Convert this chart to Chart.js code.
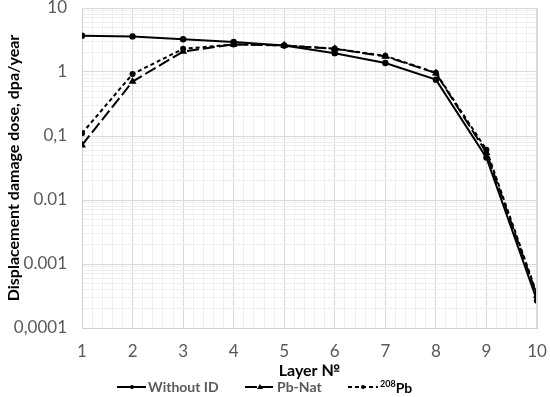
<!DOCTYPE html>
<html>
<head>
<meta charset="utf-8">
<script src="https://cdn.jsdelivr.net/npm/chart.js@4/dist/chart.umd.min.js"></script>
<style>
  html, body { margin:0; padding:0; background:#fff; }
  #wrap { position:relative; width:550px; height:397px; }
  canvas { display:block; }
  #legend { position:absolute; left:0; top:378px; width:550px; height:16px;
            font-family: Lato, "Open Sans", sans-serif; font-size:14px; font-weight:700; color:#595959; }
  .item { position:absolute; top:0; display:flex; align-items:center; gap:2px; white-space:nowrap; }
  sup { font-size:9px; color:#000; }
  .pb { color:#000; }
</style>
</head>
<body>
<div id="wrap">
  <canvas id="c" width="550" height="397"></canvas>
  <div id="legend">
    <div class="item" style="left:117px"><svg width="29" height="12"><line x1="0" y1="6" x2="29" y2="6" stroke="#000" stroke-width="2"/><circle cx="15" cy="6" r="2" fill="#000"/></svg><span>Without ID</span></div>
    <div class="item" style="left:245px"><svg width="30" height="12"><line x1="0" y1="6" x2="30" y2="6" stroke="#000" stroke-width="2" stroke-dasharray="12,4"/><polygon points="15,3 18,8 12,8" fill="#000"/></svg><span>Pb-Nat</span></div>
    <div class="item" style="left:348px"><svg width="30" height="12"><line x1="0" y1="6" x2="30" y2="6" stroke="#000" stroke-width="2" stroke-dasharray="4,3"/><circle cx="15" cy="6" r="2" fill="#000"/></svg><span><sup>208</sup><span class="pb">Pb</span></span></div>
  </div>
</div>
<script>
const layers = [1, 2, 3, 4, 5, 6, 7, 8, 9, 10];
const withoutID = [3.7, 3.6, 3.25, 2.95, 2.6, 1.97, 1.38, 0.76, 0.046, 0.00027];
const pbNat     = [0.072, 0.71, 2.09, 2.7, 2.6, 2.3, 1.75, 0.96, 0.055, 0.00032];
const pb208     = [0.11, 0.93, 2.3, 2.7, 2.6, 2.32, 1.79, 0.97, 0.061, 0.00034];
const yTickValues = [0.0001, 0.001, 0.01, 0.1, 1, 10];
const yTickLabels = ['0,0001', '0.001', '0.01', '0,1', '1', '10'];
const xTickLabels = ['1', '2', '3', '4', '5', '6', '7', '8', '9', '10'];

const FONT = 'Lato, "Open Sans", sans-serif';
const toPts = arr => layers.map((x, i) => ({ x: x, y: arr[i] }));

const isMajorY = v => yTickValues.some(t => Math.abs(v / t - 1) < 1e-6);
const isMajorX = v => Math.abs(v - Math.round(v)) < 1e-6;

new Chart(document.getElementById('c'), {
  type: 'line',
  data: {
    datasets: [
      { label: 'Without ID', data: toPts(withoutID), borderColor: '#000', backgroundColor: '#000',
        borderWidth: 2, pointRadius: 2.2, pointStyle: 'circle', tension: 0 },
      { label: 'Pb-Nat', data: toPts(pbNat), borderColor: '#000', backgroundColor: '#000',
        borderWidth: 2, borderDash: [12, 4], pointRadius: 2.6, pointStyle: 'triangle', tension: 0 },
      { label: '208Pb', data: toPts(pb208), borderColor: '#000', backgroundColor: '#000',
        borderWidth: 2, borderDash: [4, 3], pointRadius: 2, pointStyle: 'circle', tension: 0 }
    ]
  },
  options: {
    responsive: false,
    animation: false,
    layout: { padding: { left: 0, right: 13, top: 8, bottom: 17 } },
    plugins: { legend: { display: false }, tooltip: { enabled: false } },
    scales: {
      x: {
        type: 'linear', min: 1, max: 10,
        afterBuildTicks: s => {
          const t = [];
          for (let i = 0; i <= 45; i++) t.push({ value: 1 + i * 0.2 });
          s.ticks = t;
        },
        afterFit: s => { s.height = 52; s.paddingLeft = 0; s.paddingRight = 0; },
        ticks: {
          autoSkip: false, maxRotation: 0, padding: 13, color: '#595959',
          font: { family: FONT, size: 17 },
          callback: v => isMajorX(v) ? xTickLabels[Math.round(v) - 1] : ''
        },
        grid: {
          drawTicks: false,
          color: c => isMajorX(c.tick.value) ? '#d9d9d9' : '#efefef',
          lineWidth: 1
        },
        border: { color: '#d0d0d0' },
        title: { display: true, text: 'Layer №', color: '#000', font: { family: FONT, size: 16, weight: 'bold' }, padding: { top: 0, bottom: 0 } }
      },
      y: {
        type: 'logarithmic', min: 0.0001, max: 10,
        afterBuildTicks: s => {
          const t = [];
          for (let d = 0; d < yTickValues.length; d++) {
            const base = yTickValues[d];
            t.push({ value: base });
            if (d < yTickValues.length - 1) for (let m = 2; m <= 9; m++) t.push({ value: base * m });
          }
          s.ticks = t;
        },
        afterFit: s => { s.width = 82; s.paddingTop = 0; s.paddingBottom = 0; },
        ticks: {
          autoSkip: false, padding: 15, color: '#595959',
          font: { family: FONT, size: 17 },
          callback: v => { const i = yTickValues.findIndex(t => Math.abs(v / t - 1) < 1e-6); return i >= 0 ? yTickLabels[i] : ''; }
        },
        grid: {
          drawTicks: false,
          color: c => isMajorY(c.tick.value) ? '#d9d9d9' : '#efefef',
          lineWidth: 1
        },
        border: { color: '#d0d0d0' },
        title: { display: true, text: 'Displacement damage dose, dpa/year', color: '#000', font: { family: FONT, size: 16, weight: 'bold' }, padding: { top: 4, bottom: 0 } }
      }
    }
  },
  plugins: [{
    id: 'frame',
    afterDraw(chart) {
      const a = chart.chartArea, ctx = chart.ctx;
      ctx.save(); ctx.strokeStyle = '#d9d9d9'; ctx.lineWidth = 1;
      ctx.beginPath(); ctx.moveTo(a.left, a.top + 0.5); ctx.lineTo(a.right, a.top + 0.5);
      ctx.moveTo(a.right - 0.5, a.top); ctx.lineTo(a.right - 0.5, a.bottom); ctx.stroke(); ctx.restore();
    }
  }]
});
</script>
</body>
</html>
